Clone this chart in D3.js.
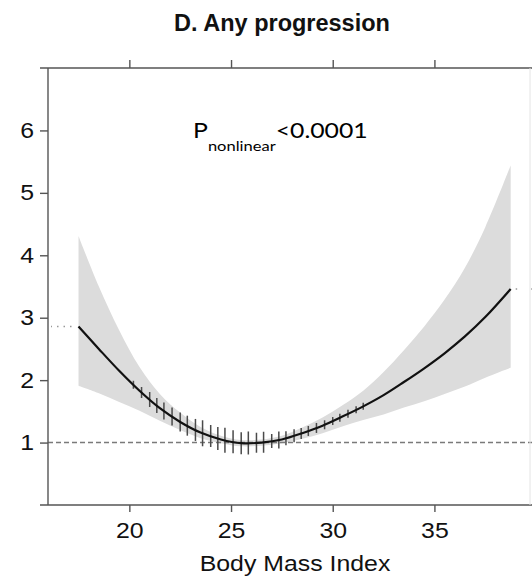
<!DOCTYPE html>
<html>
<head>
<meta charset="utf-8">
<script src="https://cdn.jsdelivr.net/npm/d3@7"></script>
<style>
  body { margin: 0; background: #fff; }
  svg { display: block; }
</style>
</head>
<body>
<svg id="chart" width="532" height="580"></svg>
<script>
// Spline fit of hazard ratio for any progression by body mass index
const bmiKnots = [17.5, 18.5, 19.5, 20.5, 21.5, 22.5, 23.5, 24.5, 25.5, 26.5, 27.5,
                  28.5, 29.5, 30.5, 31.5, 32.5, 33.5, 34.5, 35.5, 36.5, 37.5, 38.75];
const hrFit   = [2.86, 2.50, 2.15, 1.83, 1.55, 1.33, 1.16, 1.05, 0.99, 1.00, 1.05,
                 1.15, 1.27, 1.42, 1.58, 1.76, 1.97, 2.19, 2.43, 2.70, 3.01, 3.46];
const hrUpper = [4.31, 3.50, 2.80, 2.21, 1.78, 1.48, 1.25, 1.11, 1.04, 1.05, 1.11,
                 1.24, 1.40, 1.60, 1.83, 2.13, 2.48, 2.86, 3.29, 3.80, 4.45, 5.44];
const hrLower = [1.91, 1.79, 1.65, 1.51, 1.35, 1.20, 1.07, 0.99, 0.94, 0.95, 0.99,
                 1.06, 1.15, 1.26, 1.36, 1.45, 1.56, 1.66, 1.78, 1.90, 2.04, 2.20];

// Vertical marks along the fitted curve (relative weight of each)
const hatchBmi = [20.2, 20.6, 21.0, 21.35, 21.7, 22.1, 22.5, 22.85, 23.25, 23.6, 24.0,
                  24.35, 24.7, 25.1, 25.5, 25.85, 26.25, 26.6, 27.0, 27.35, 27.7, 28.1,
                  28.45, 28.8, 29.2, 29.6, 30.0, 30.35, 30.75, 31.15, 31.5];
const hatchWeight = [8, 11, 15, 15, 17, 18, 19, 20, 22, 26, 22,
                     23, 25, 23, 22, 23, 20, 21, 14, 17, 14, 13,
                     11, 10, 10, 9, 8, 8, 8, 7, 7];

const xTicks = [20, 25, 30, 35];
const yTicks = [1, 2, 3, 4, 5, 6];
const refHR = 1;

const svg = d3.select("#chart");
const plotLeft = 48, plotRight = 530, plotTop = 68, plotBottom = 505;

const x = d3.scaleLinear().domain([16, 39.7]).range([plotLeft, plotRight]);
const y = d3.scaleLinear().domain([0, 7]).range([plotBottom, plotTop]);
const fitAt = d3.scaleLinear().domain(bmiKnots).range(hrFit);
const hatchLen = d3.scaleLinear().domain([0, 26]).range([0, 26]);
const smooth = d3.curveCatmullRom.alpha(0.5);

const pts = bmiKnots.map((b, i) => ({ b, f: hrFit[i], u: hrUpper[i], l: hrLower[i] }));

// confidence band
svg.append("path")
  .datum(pts)
  .attr("fill", "#dcdcdc")
  .attr("d", d3.area()
    .curve(smooth)
    .x(d => x(d.b))
    .y0(d => y(d.l))
    .y1(d => y(d.u)));

// reference line at HR = 1
svg.append("line")
  .attr("x1", plotLeft).attr("x2", 532)
  .attr("y1", y(refHR)).attr("y2", y(refHR))
  .attr("stroke", "#7a7a7a").attr("stroke-width", 1.4)
  .attr("stroke-dasharray", "5,3");

// dotted extensions of the fit beyond the data range
const first = pts[0], last = pts[pts.length - 1];
svg.append("line")
  .attr("x1", x(first.b) - 7).attr("x2", plotLeft + 3)
  .attr("y1", y(first.f)).attr("y2", y(first.f))
  .attr("stroke", "#999").attr("stroke-width", 1.4)
  .attr("stroke-dasharray", "1.5,5");
svg.append("line")
  .attr("x1", x(last.b) + 5).attr("x2", 532)
  .attr("y1", y(last.f)).attr("y2", y(last.f))
  .attr("stroke", "#999").attr("stroke-width", 1.4)
  .attr("stroke-dasharray", "1.5,14");

// vertical marks along the curve
svg.append("g")
  .selectAll("line")
  .data(hatchBmi.map((b, i) => ({ b, w: hatchWeight[i] })))
  .join("line")
  .attr("x1", d => x(d.b)).attr("x2", d => x(d.b))
  .attr("y1", d => y(fitAt(d.b)) - hatchLen(d.w) / 2)
  .attr("y2", d => y(fitAt(d.b)) + hatchLen(d.w) / 2)
  .attr("stroke", "#4a4a4a").attr("stroke-width", 1.5);

// fitted curve
svg.append("path")
  .datum(pts)
  .attr("fill", "none")
  .attr("stroke", "#111")
  .attr("stroke-width", 2.2)
  .attr("d", d3.line()
    .curve(smooth)
    .x(d => x(d.b))
    .y(d => y(d.f)));

// frame
const axisColor = "#555";
svg.append("line").attr("x1", 40).attr("x2", 532).attr("y1", plotTop).attr("y2", plotTop)
  .attr("stroke", axisColor).attr("stroke-width", 1.4);
svg.append("line").attr("x1", 40).attr("x2", 532).attr("y1", plotBottom).attr("y2", plotBottom)
  .attr("stroke", axisColor).attr("stroke-width", 1.4);
svg.append("line").attr("x1", plotLeft).attr("x2", plotLeft).attr("y1", plotTop).attr("y2", plotBottom)
  .attr("stroke", axisColor).attr("stroke-width", 1.4);
svg.append("line").attr("x1", plotRight).attr("x2", plotRight).attr("y1", plotTop).attr("y2", plotBottom)
  .attr("stroke", "#e4e4e4").attr("stroke-width", 1);

const styleAxis = g => {
  g.select(".domain").remove();
  g.selectAll(".tick line").attr("stroke", axisColor).attr("stroke-width", 1.4);
  g.selectAll("text")
    .attr("font-family", "'Liberation Sans', Arial, sans-serif")
    .attr("font-size", 22)
    .attr("fill", "#111")
    .attr("transform", "scale(1.13,1)");
};

svg.append("g")
  .attr("transform", `translate(0,${plotBottom})`)
  .call(d3.axisBottom(x).tickValues(xTicks).tickSize(7).tickPadding(10.5).tickFormat(d3.format("d")))
  .call(styleAxis);

svg.append("g")
  .attr("transform", `translate(0,${plotTop})`)
  .call(d3.axisTop(x).tickValues(xTicks).tickSize(8).tickFormat(""))
  .call(styleAxis);

svg.append("g")
  .attr("transform", `translate(${plotLeft},0)`)
  .call(d3.axisLeft(y).tickValues(yTicks).tickSize(8).tickPadding(4.3).tickFormat(d3.format("d")))
  .call(styleAxis);

// axis title
svg.append("text")
  .attr("transform", "translate(295,571) scale(1.13,1)")
  .attr("text-anchor", "middle")
  .attr("font-family", "'Liberation Sans', Arial, sans-serif")
  .attr("font-size", 22)
  .attr("fill", "#111")
  .text("Body Mass Index");

// panel title
svg.append("text")
  .attr("x", 282).attr("y", 31)
  .attr("text-anchor", "middle")
  .attr("font-family", "'Liberation Sans', Arial, sans-serif")
  .attr("font-weight", "bold")
  .attr("font-size", 23.5)
  .attr("fill", "#111")
  .text("D. Any progression");

// test for non-linearity
const ann = svg.append("text")
  .attr("transform", "translate(193,138) scale(1.18,1)")
  .attr("font-family", "Lato, 'Open Sans', sans-serif")
  .attr("font-size", 21)
  .attr("fill", "#000");
ann.append("tspan").text("P");
ann.append("tspan").attr("font-size", 14).attr("dy", 13).text("nonlinear");
ann.append("tspan").attr("dy", -13).text("<0.0001");
</script>
</body>
</html>
